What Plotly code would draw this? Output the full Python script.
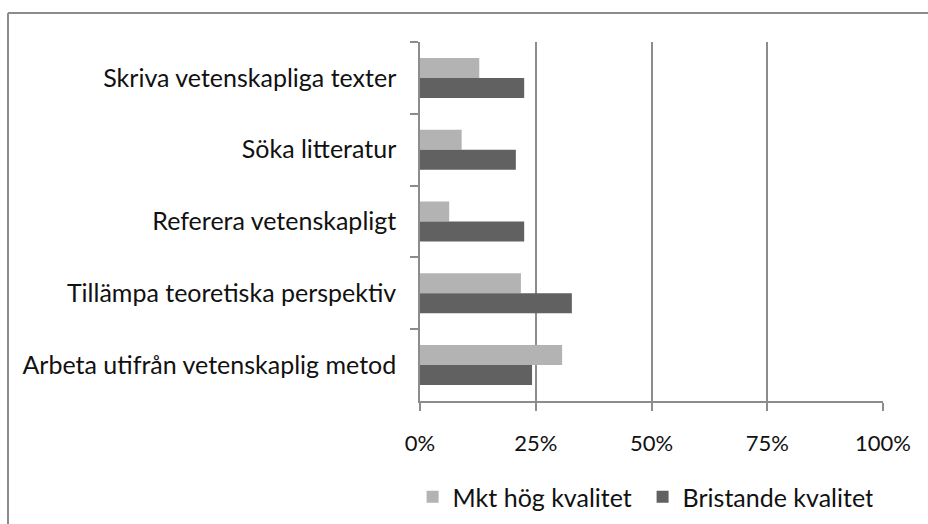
import plotly.graph_objects as go

# Kategorier (uppifrån och ned) och andelar per svarsalternativ
categories = [
    "Skriva vetenskapliga texter",
    "Söka litteratur",
    "Referera vetenskapligt",
    "Tillämpa teoretiska perspektiv",
    "Arbeta utifrån vetenskaplig metod",
]
mkt_hog = [0.128, 0.090, 0.063, 0.218, 0.307]
bristande = [0.225, 0.207, 0.225, 0.328, 0.242]

series_names = ["Mkt hög kvalitet", "Bristande kvalitet"]
x_ticks = [0, 0.25, 0.5, 0.75, 1.0]
x_ticklabels = ["0%", "25%", "50%", "75%", "100%"]

FONT = "Lato"
GRID = "#8c8c8c"
TEXT = "#111111"

fig = go.Figure()
fig.add_trace(go.Bar(
    y=categories, x=mkt_hog, name=series_names[0], orientation="h",
    marker=dict(color="#b3b3b3", line=dict(width=0)),
))
fig.add_trace(go.Bar(
    y=categories, x=bristande, name=series_names[1], orientation="h",
    marker=dict(color="#616161", line=dict(width=0)),
))

W, H = 928, 524
ML, MR, MT, MB = 420, 45, 42, 123
pw = W - ML - MR
ph = H - MT - MB

# ram runt diagramytan (vänster- och överkant)
bx = (8 - ML) / pw
by = (H - MB - 13) / ph
fig.add_shape(type="line", xref="paper", yref="paper", x0=bx, x1=bx, y0=-2, y1=by,
              line=dict(color=GRID, width=2))
fig.add_shape(type="line", xref="paper", yref="paper", x0=bx, x1=1.5, y0=by, y1=by,
              line=dict(color=GRID, width=2))

fig.update_layout(
    width=W, height=H,
    margin=dict(l=ML, r=MR, t=MT, b=MB, pad=0, autoexpand=False),
    paper_bgcolor="white", plot_bgcolor="white",
    barmode="group", bargap=0.443, bargroupgap=0,
    font=dict(family=FONT, size=25, color=TEXT),
    showlegend=True,
    legend=dict(
        orientation="h", x=-0.016, xanchor="left",
        yref="container", y=(H - 497) / H, yanchor="middle",
        font=dict(family=FONT, size=25, color=TEXT),
        entrywidth=185, entrywidthmode="pixels",
        bgcolor="rgba(0,0,0,0)",
    ),
    xaxis=dict(
        range=[0, 1], tickvals=x_ticks, ticktext=x_ticklabels,
        tickfont=dict(family=FONT, size=22, color=TEXT),
        showgrid=True, gridcolor=GRID, gridwidth=1.5,
        showline=True, linecolor=GRID, linewidth=1.5,
        ticks="outside", ticklen=8, tickcolor=GRID, tickwidth=1.5,
        zeroline=False, fixedrange=True,
        ticklabelstandoff=14,
    ),
    yaxis=dict(
        autorange="reversed", type="category",
        tickfont=dict(family=FONT, size=25, color=TEXT),
        showgrid=False, showline=True, linecolor=GRID, linewidth=1.5,
        ticks="outside", tickson="boundaries", ticklen=8, tickcolor=GRID, tickwidth=1.5,
        ticklabelstandoff=17,
        zeroline=False, fixedrange=True,
    ),
)

fig.write_html("out.html")
